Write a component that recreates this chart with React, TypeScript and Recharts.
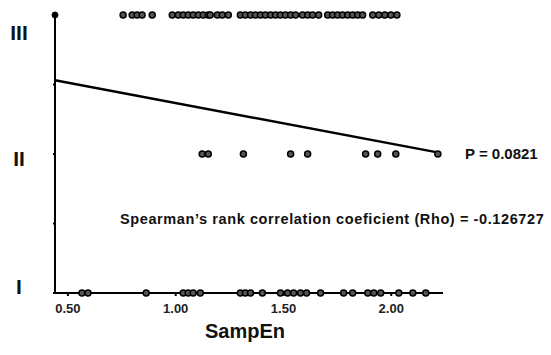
import { ScatterChart, Scatter, XAxis, YAxis, ReferenceLine, ReferenceDot } from 'recharts'

// SampEn values, one list per grade row
const gradeIII = [
  0.756, 0.798, 0.821, 0.844, 0.891, 0.984, 1.012, 1.035, 1.058, 1.081, 1.105, 1.128, 1.151,
  1.16, 1.193, 1.216, 1.244, 1.3, 1.323, 1.347, 1.37, 1.393, 1.416, 1.44, 1.463, 1.486, 1.509,
  1.533, 1.556, 1.588, 1.612, 1.635, 1.663, 1.705, 1.728, 1.751, 1.774, 1.798, 1.821, 1.844,
  1.867, 1.914, 1.942, 1.97, 1.998, 2.026,
]
const gradeII = [1.123, 1.151, 1.314, 1.533, 1.612, 1.881, 1.937, 2.021, 2.216]
const gradeI = [
  0.565, 0.593, 0.863, 1.035, 1.058, 1.081, 1.114, 1.3, 1.323, 1.347, 1.402, 1.486, 1.519,
  1.547, 1.579, 1.607, 1.672, 1.779, 1.821, 1.891, 1.919, 1.951, 2.035, 2.1, 2.16,
]

const xTicks = [0.5, 1, 1.5, 2]
const yTicks = [1, 1.5, 2, 2.5, 3]
const gradeLabels: Record<number, string> = { 1: 'I', 2: 'II', 3: 'III' }
const xDomain = [0.44, 2.24]
// regression line end points (SampEn, grade)
const fitLine = [
  { x: 0.44, y: 2.53 },
  { x: 2.22, y: 2.01 },
]

const toPoints = (xs: number[], grade: number) => xs.map((x) => ({ x, y: grade }))

const labelOffset: Record<number, number> = { 1: -6, 2: 5, 3: 18 }

const GradeTick = (props: any) => {
  const { y, payload } = props
  const label = gradeLabels[payload.value]
  if (!label) return null
  return (
    <text
      x={19}
      y={y + labelOffset[payload.value]}
      dy={7}
      textAnchor="middle"
      fontSize={21}
      fontWeight="bold"
      fill="#111"
      fontFamily="Liberation Sans"
    >
      {label}
    </text>
  )
}

const Dot = (props: any) => (
  <circle cx={props.cx} cy={props.cy} r={3} fill="#555" stroke="#000" strokeWidth={1.5} />
)

const App = () => {
  return (
    <div style={{ position: 'absolute', left: 0, top: 0, width: 551, height: 355, background: '#fff' }}>
      <ScatterChart width={551} height={355} margin={{ top: 15, right: 108, left: 0, bottom: 22 }}>
        <XAxis
          type="number"
          dataKey="x"
          domain={xDomain}
          ticks={xTicks}
          allowDataOverflow
          tickFormatter={(v: number) => v.toFixed(2)}
          height={40}
          stroke="#000"
          strokeWidth={2}
          tickSize={3}
          tickMargin={8}
          tick={{ fontSize: 13, fontWeight: 'bold', fill: '#222', fontFamily: 'Liberation Sans' }}
        />
        <YAxis
          type="number"
          dataKey="y"
          domain={[1, 3]}
          ticks={yTicks}
          width={55}
          stroke="#000"
          strokeWidth={2}
          tickSize={2}
          tick={<GradeTick />}
        />
        <ReferenceLine segment={fitLine} stroke="#000" strokeWidth={2.5} />
        <ReferenceDot x={xDomain[0]} y={3} r={3} fill="#000" stroke="#000" />
        <Scatter data={toPoints(gradeIII, 3)} shape={<Dot />} isAnimationActive={false} />
        <Scatter data={toPoints(gradeII, 2)} shape={<Dot />} isAnimationActive={false} />
        <Scatter data={toPoints(gradeI, 1)} shape={<Dot />} isAnimationActive={false} />
      </ScatterChart>
      <div
        style={{
          position: 'absolute',
          left: 465,
          top: 145,
          fontFamily: 'Liberation Sans',
          fontWeight: 'bold',
          fontSize: 15,
          color: '#111',
        }}
      >
        P = 0.0821
      </div>
      <div
        style={{
          position: 'absolute',
          left: 120,
          top: 211,
          fontFamily: 'Liberation Sans',
          fontWeight: 'bold',
          fontSize: 14.5,
          letterSpacing: 0.6,
          color: '#111',
          whiteSpace: 'nowrap',
        }}
      >
        Spearman’s rank correlation coeficient (Rho) = -0.126727
      </div>
      <div
        style={{
          position: 'absolute',
          left: 245,
          top: 320,
          transform: 'translateX(-50%)',
          fontFamily: 'Liberation Sans',
          fontWeight: 'bold',
          fontSize: 20,
          color: '#111',
        }}
      >
        SampEn
      </div>
    </div>
  )
}

export default App
